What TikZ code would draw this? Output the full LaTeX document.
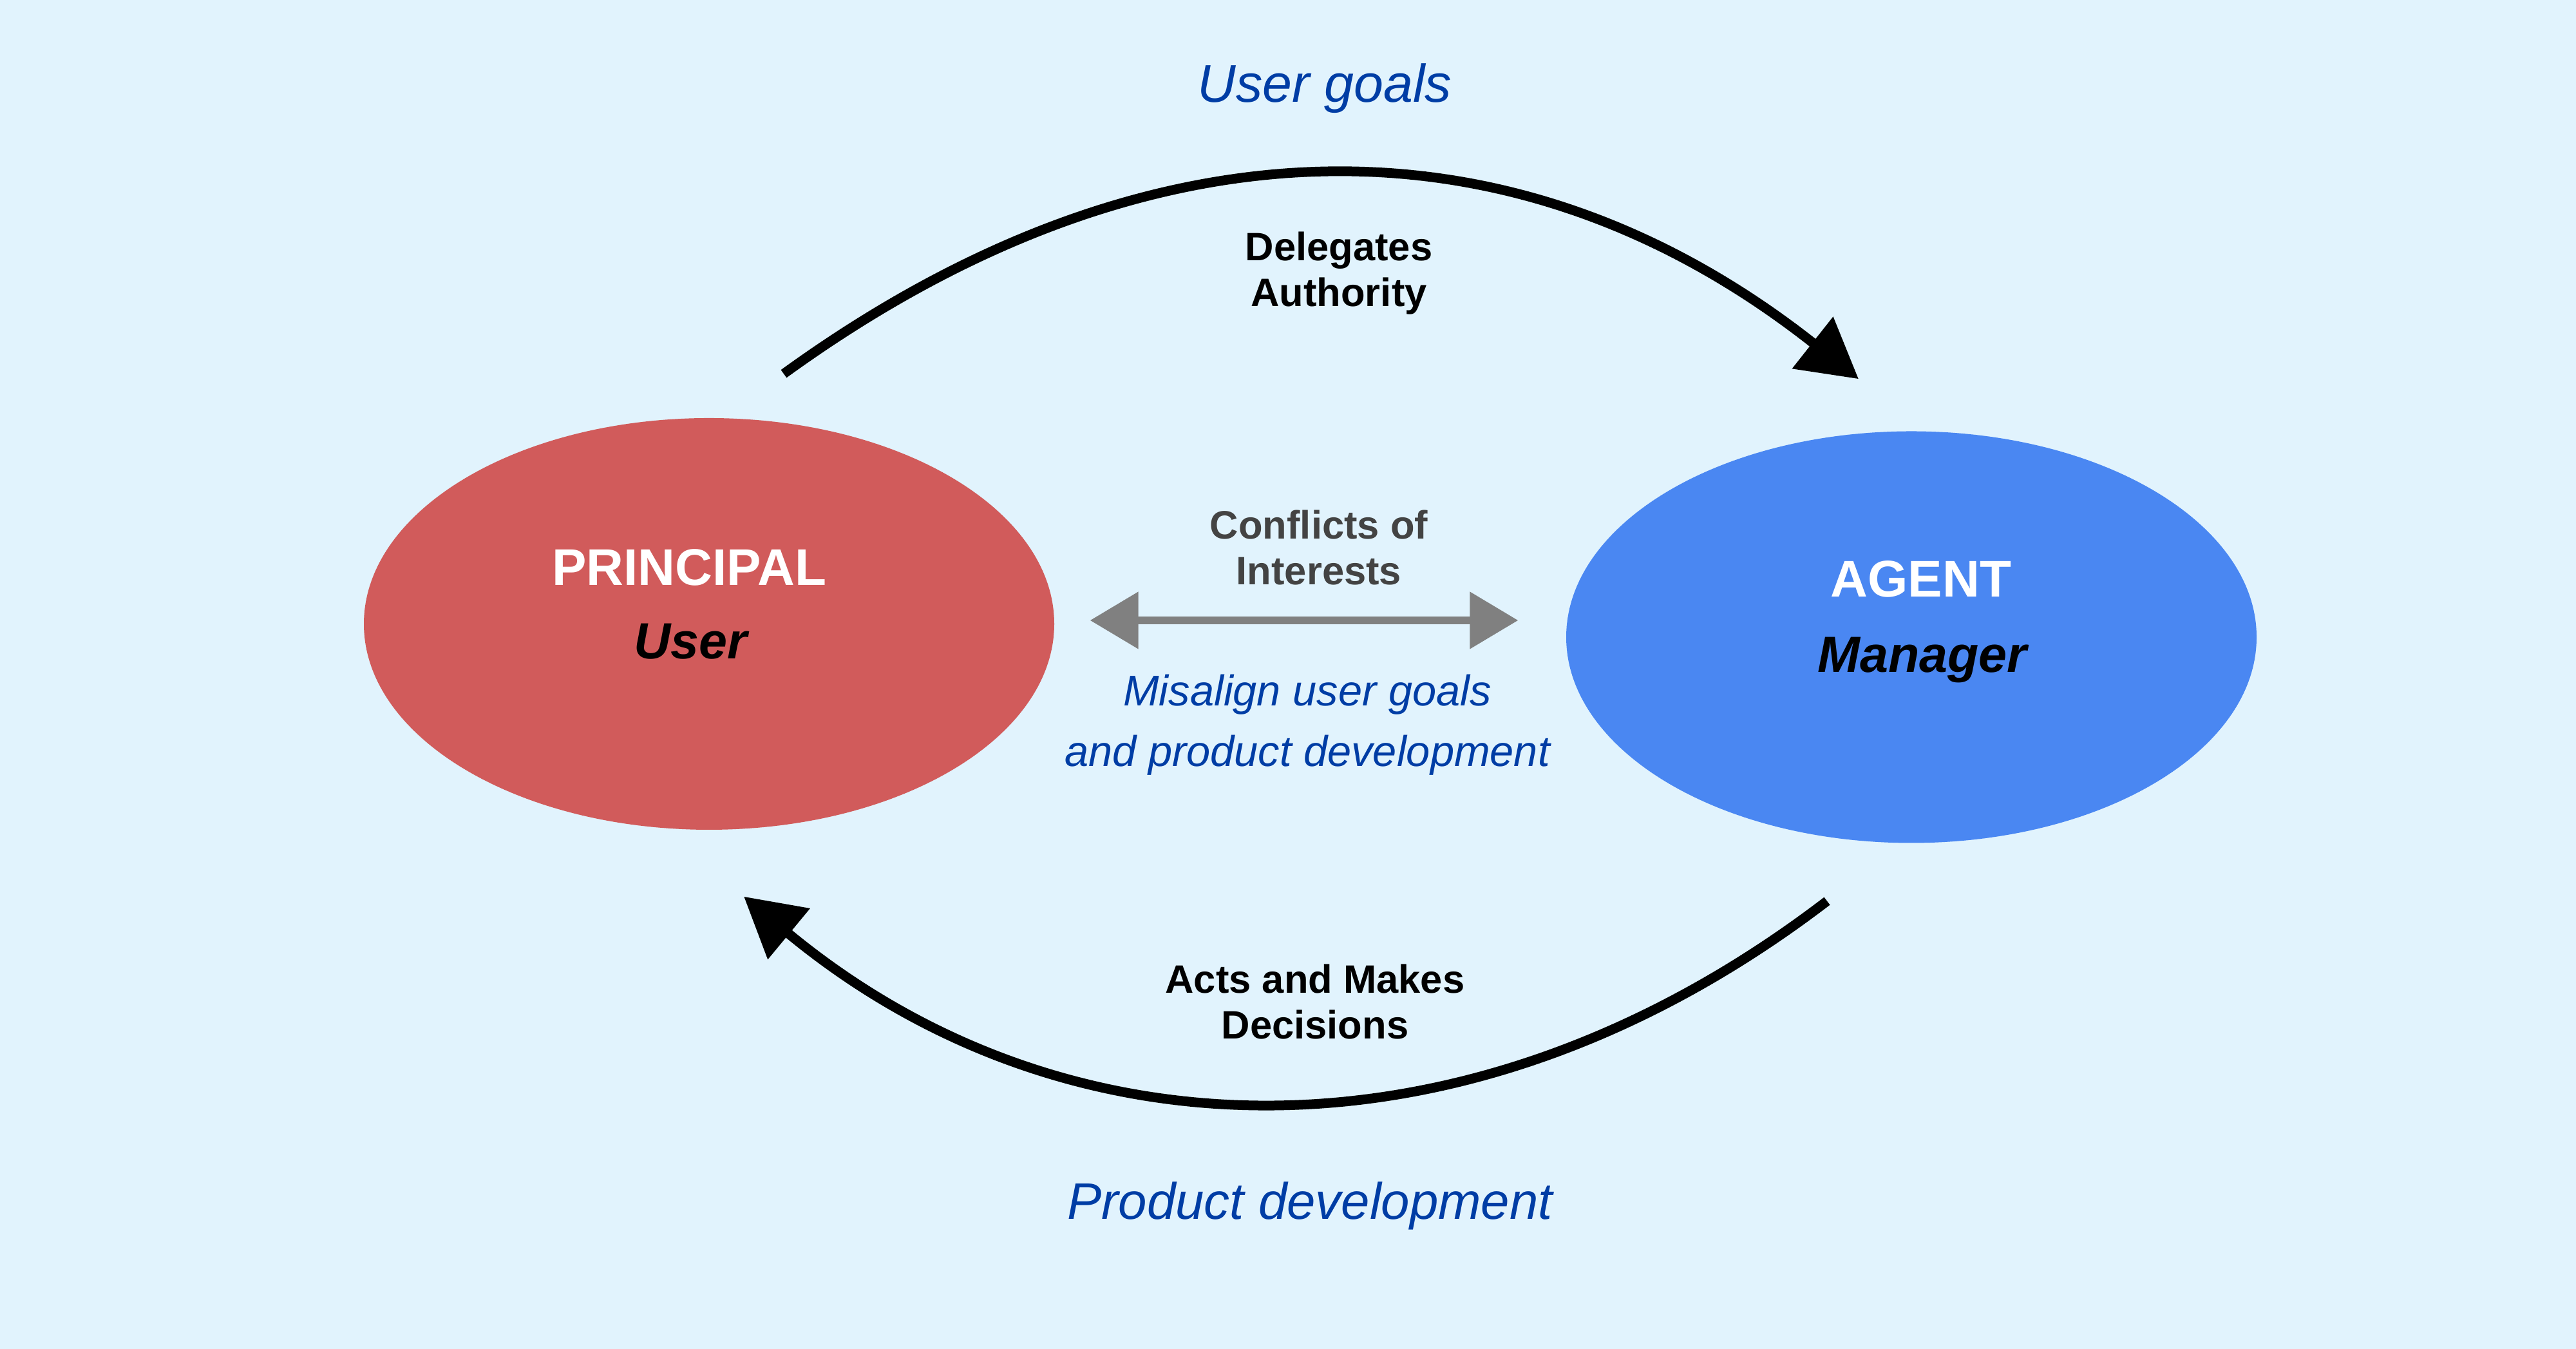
\documentclass[tikz,border=0pt]{standalone}
\usepackage{fontspec}
\setmainfont{Liberation Sans}
\usetikzlibrary{arrows.meta,shapes.geometric}

\definecolor{bgblue}{HTML}{E1F3FD}
\definecolor{prred}{HTML}{D15B5B}
\definecolor{agblue}{HTML}{4A87F2}
\definecolor{noteblue}{HTML}{003DA5}
\definecolor{cgray}{HTML}{434343}
\definecolor{arrgray}{HTML}{808080}

\tikzset{
  party/.style={ellipse, minimum width=10.72cm, minimum height=6.39cm, inner sep=0pt},
  role/.style={anchor=base, text=white, font=\bfseries\fontsize{22.8}{27}\selectfont},
  who/.style={anchor=base, font=\bfseries\itshape\fontsize{22.5}{27}\selectfont},
  flow/.style={line width=0.15cm, -{Triangle[length=0.91cm,width=0.99cm]}},
  flowlabel/.style={anchor=base, align=center, font=\bfseries\fontsize{17.5}{20.2}\selectfont},
  note/.style={anchor=base, align=center, text=noteblue, font=\itshape\fontsize{19}{27}\selectfont},
  conflict/.style={line width=0.12cm, draw=arrgray,
    {Triangle[length=0.75cm,width=0.86cm]}-{Triangle[length=0.75cm,width=0.86cm]}}
}

\begin{document}
\begin{tikzpicture}
  \useasboundingbox (0,0) rectangle (40,20.94);
  \fill[bgblue] (0,0) rectangle (40,20.94);

  % the two parties
  \node[party, fill=prred] (pr) at (11.01,11.255) {};
  \node[party, fill=agblue] (ag) at (29.68,11.05) {};
  \node[role] (prname) at (10.70,11.85) {PRINCIPAL};
  \node[who] (prwho) at (10.72,10.71) {User};
  \node[role] (agname) at (29.83,11.67) {AGENT};
  \node[who] (agwho) at (29.85,10.50) {Manager};

  % delegation, top
  \coordinate (delS) at ([shift={(1.16,0.68)}]pr.north);
  \coordinate (delE) at ([shift={(-0.82,0.805)}]ag.north);
  \draw[flow] (delS) .. controls (17.9,19.29) and (23.6,19.21) .. (delE);
  \node[note, font=\itshape\fontsize{23.5}{28}\selectfont] (goals) at (20.57,19.35) {User goals};
  \node[flowlabel] (deleg) at (20.79,16.18) {Delegates\\Authority};

  % decisions, bottom
  \coordinate (actS) at ([shift={(-1.31,-0.895)}]ag.south);
  \coordinate (actE) at ([shift={(0.54,-1.03)}]pr.south);
  \draw[flow] (actS) .. controls (22.9,2.77) and (16.6,2.84) .. (actE);
  \node[flowlabel] (acts) at (20.42,4.81) {Acts and Makes\\Decisions};
  \node[note, font=\itshape\fontsize{22.7}{27}\selectfont] (product) at (20.34,2.01) {Product development};

  % conflict in the middle
  \draw[conflict] ([shift={(0.55,0.055)}]pr.east) -- ([shift={(-0.74,0.26)}]ag.west);
  \node[flowlabel, text=cgray] (conflicts) at (20.48,11.86) {Conflicts of\\Interests};
  \node[note] (misalign) at (20.30,9.04) {Misalign user goals\\and product development};
\end{tikzpicture}
\end{document}
